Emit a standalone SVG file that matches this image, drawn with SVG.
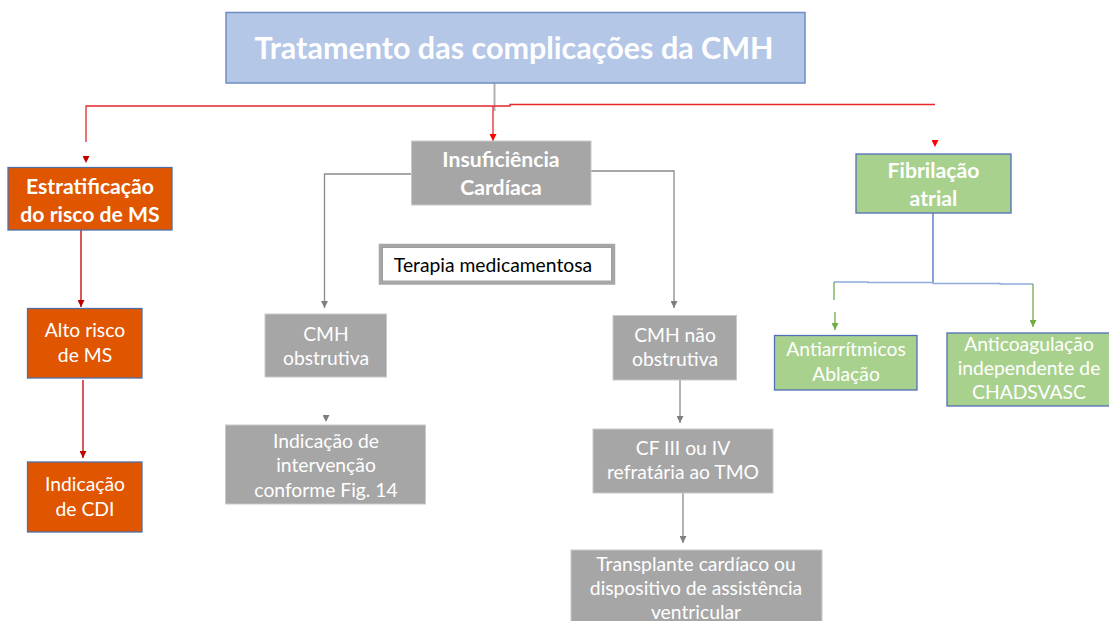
<svg xmlns="http://www.w3.org/2000/svg" width="1109" height="621" viewBox="0 0 1109 621">
<style>
text{font-family:Lato,"Liberation Sans",sans-serif;text-anchor:middle}
.w{fill:#ffffff;font-size:19.3px}
.wb{fill:#ffffff;font-size:21.2px;font-weight:bold}
.title{fill:#ffffff;font-size:30.5px;font-weight:bold}
.blk{fill:#000000;font-size:19.3px}
.orange{fill:#e05500;stroke:#4f6fa8;stroke-width:1.3}
.grey{fill:#a6a6a6;stroke:#c9c9c9;stroke-width:1}
.green{fill:#a9d18e;stroke:#4f6fb8;stroke-width:1.3}
.red{fill:none;stroke:#e8262a;stroke-width:1.3}
.dred{fill:none;stroke:#c00000;stroke-width:1.3}
.gl{fill:none;stroke:#8a8a8a;stroke-width:1.3}
.bl{fill:none;stroke:#4472c4;stroke-width:1.3}
.lbl{fill:none;stroke:#8faadc;stroke-width:1.5}
.gr{fill:none;stroke:#70ad47;stroke-width:1.3}
</style>
<defs>
<marker id="mR" viewBox="0 0 8 8" refX="8" refY="4" markerWidth="7" markerHeight="7" markerUnits="userSpaceOnUse" orient="auto"><path d="M0,0 L8,4 L0,8 z" fill="#ff0000"/></marker>
<marker id="mD" viewBox="0 0 8 8" refX="8" refY="4" markerWidth="7" markerHeight="7" markerUnits="userSpaceOnUse" orient="auto"><path d="M0,0 L8,4 L0,8 z" fill="#c00000"/></marker>
<marker id="mG" viewBox="0 0 8 8" refX="8" refY="4" markerWidth="7" markerHeight="7" markerUnits="userSpaceOnUse" orient="auto"><path d="M0,0 L8,4 L0,8 z" fill="#7f7f7f"/></marker>
<marker id="mN" viewBox="0 0 8 8" refX="8" refY="4" markerWidth="7" markerHeight="7" markerUnits="userSpaceOnUse" orient="auto"><path d="M0,0 L8,4 L0,8 z" fill="#70ad47"/></marker>
</defs>
<rect width="1109" height="621" fill="#ffffff"/>
<g id="connectors">
<path d="M494.5,83 V111" fill="none" stroke="#b0b0b0" stroke-width="2"/>
<path class="red" d="M86,142 V106 H510 V104.5 H935"/>
<path class="red" d="M493,106 V141" marker-end="url(#mR)"/>
<path d="M86,157 V163" stroke="none" fill="none" marker-end="url(#mD)"/>
<path d="M935,141 V147" stroke="none" fill="none" marker-end="url(#mR)"/>
<path class="dred" d="M81,230 V307" marker-end="url(#mD)"/>
<path class="dred" d="M83,380 V458" marker-end="url(#mD)"/>
<path class="gl" d="M411,174 H324.5 V308" marker-end="url(#mG)"/>
<path class="gl" d="M591,171 H674 V308" marker-end="url(#mG)"/>
<path d="M326,416 V422" stroke="none" fill="none" marker-end="url(#mG)"/>
<path class="gl" d="M680,380 V423" marker-end="url(#mG)"/>
<path class="gl" d="M683,493 V543" marker-end="url(#mG)"/>
<path class="bl" d="M933,213 V282"/>
<path class="lbl" d="M834,282 H868 V282.5 H933 V283.5 H1000 V284 H1033"/>
<path class="gr" d="M834,282 V300"/>
<path class="gr" d="M835,312 V330" marker-end="url(#mN)"/>
<path class="gr" d="M1033,284 V327" marker-end="url(#mN)"/>
</g>
<g id="title">
<rect x="226" y="12.5" width="579" height="70.5" fill="#b4c7e7" stroke="#6d8fc4" stroke-width="1.5"/>
<text class="title" x="514" y="59">Tratamento das complicações da CMH</text>
</g>
<g id="estratificacao">
<rect class="orange" x="8" y="167.5" width="164" height="62.5"/>
<text class="wb" x="90" y="194">Estratificação</text>
<text class="wb" x="90" y="222">do risco de MS</text>
</g>
<g id="alto-risco">
<rect class="orange" x="27.5" y="308.5" width="114.5" height="69.5"/>
<text class="w" x="85" y="337">Alto risco</text>
<text class="w" x="85" y="362">de MS</text>
</g>
<g id="indicacao-cdi">
<rect class="orange" x="27.5" y="462" width="114.5" height="70"/>
<text class="w" x="85" y="491">Indicação</text>
<text class="w" x="85" y="516">de CDI</text>
</g>
<g id="insuficiencia">
<rect class="grey" x="411.5" y="141" width="179.5" height="64"/>
<text class="wb" x="501" y="167">Insuficiência</text>
<text class="wb" x="501" y="195">Cardíaca</text>
</g>
<g id="terapia">
<rect x="380.5" y="245.5" width="233" height="37.5" fill="#ffffff" stroke="#a6a6a6" stroke-width="3.5"/>
<rect x="382.5" y="247.5" width="229" height="33.5" fill="none" stroke="#8c8c8c" stroke-width="0.8"/>
<text class="blk" x="493" y="272">Terapia medicamentosa</text>
</g>
<g id="cmh-obstrutiva">
<rect class="grey" x="265" y="314" width="121.5" height="63"/>
<text class="w" x="326" y="341">CMH</text>
<text class="w" x="326" y="365">obstrutiva</text>
</g>
<g id="indicacao-intervencao">
<rect class="grey" x="225.5" y="425" width="200" height="79"/>
<text class="w" x="326" y="448">Indicação de</text>
<text class="w" x="326" y="472">intervenção</text>
<text class="w" x="326" y="497">conforme Fig. 14</text>
</g>
<g id="cmh-nao-obstrutiva">
<rect class="grey" x="613" y="315.5" width="123.5" height="64.5"/>
<text class="w" x="675" y="342">CMH não</text>
<text class="w" x="675" y="366">obstrutiva</text>
</g>
<g id="cf">
<rect class="grey" x="593" y="429" width="180" height="64"/>
<text class="w" x="683" y="455">CF III ou IV</text>
<text class="w" x="683" y="479">refratária ao TMO</text>
</g>
<g id="transplante">
<rect class="grey" x="571" y="550" width="251" height="75"/>
<text class="w" x="696" y="571">Transplante cardíaco ou</text>
<text class="w" x="696" y="595">dispositivo de assistência</text>
<text class="w" x="696" y="619">ventricular</text>
</g>
<g id="fibrilacao">
<rect class="green" x="856" y="154" width="155" height="59"/>
<text class="wb" x="933.5" y="178">Fibrilação</text>
<text class="wb" x="933.5" y="206">atrial</text>
</g>
<g id="antiarritmicos">
<rect class="green" x="774.5" y="335.5" width="142.5" height="54.5"/>
<text class="w" x="846" y="356">Antiarrítmicos</text>
<text class="w" x="846" y="381">Ablação</text>
</g>
<g id="anticoagulacao">
<rect class="green" x="947" y="333" width="166" height="73"/>
<text class="w" x="1029" y="351">Anticoagulação</text>
<text class="w" x="1029" y="375">independente de</text>
<text class="w" x="1029" y="399">CHADSVASC</text>
</g>
</svg>
